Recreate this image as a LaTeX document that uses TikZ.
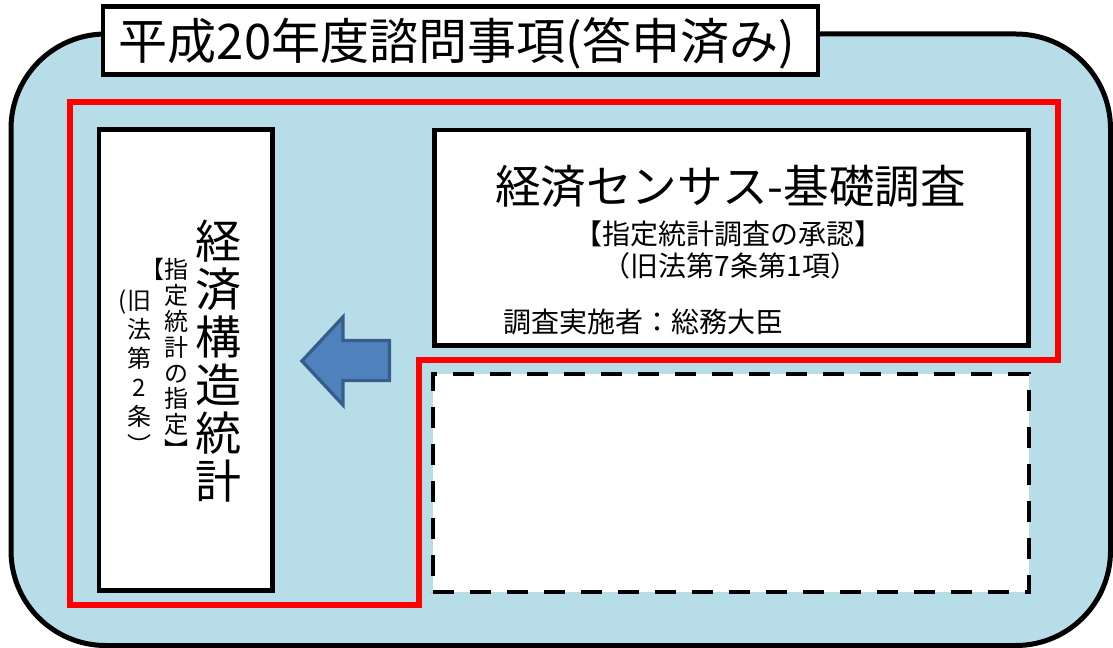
\documentclass[tikz,border=0pt]{standalone}
\usepackage{fontspec}
\newfontfamily\jp{Noto Sans CJK JP}
\definecolor{bgblue}{HTML}{B7DDE8}
\definecolor{arrowfill}{HTML}{4F81BD}
\definecolor{arrowline}{HTML}{385D8A}
\definecolor{framered}{HTML}{FF0000}
\tikzset{
  outerbox/.style={draw=black, line width=3.75pt, fill=bgblue, rounded corners=71pt},
  whitebox/.style={draw=black, line width=3.5pt, fill=white, inner sep=0pt},
  dashbox/.style={draw=black, line width=3.4pt, fill=white, inner sep=0pt, dash pattern=on 15.75pt off 12pt},
  redline/.style={draw=framered, line width=4.5pt, miter limit=10},
  blockarrow/.style={draw=arrowline, fill=arrowfill, line width=2.5pt, line join=miter},
  txt/.style={inner sep=0pt, text=black},
  vtxt/.style={inner sep=0pt, text=black, align=center, anchor=north}
}
\begin{document}
\begin{tikzpicture}[x=0.75pt, y=-0.75pt]
\useasboundingbox (0,0) rectangle (1113,648);
% outer rounded panel
\path[outerbox] (11,34) rectangle (1110.5,645.5);
% title
\node[whitebox, minimum width=536.25pt, minimum height=51pt] (titlebox) at (460.5,40.5) {};
\node[txt, anchor=base, font=\jp\fontsize{36.8pt}{40pt}\selectfont] (titletext) at (457,60) {平成20年度諮問事項(答申済み)};
% red frame
\draw[redline] (69.5,102.5) -- (1057.5,102.5) -- (1057.5,360) -- (419,360) -- (419,605) -- (69.5,605) -- cycle;
% left box
\node[whitebox, minimum width=130.1pt, minimum height=345.75pt] (leftbox) at (185.75,360) {};
\node[vtxt, font=\jp\fontsize{34.5pt}{36pt}\selectfont] (lefttitle) at (218.5,220) {経\\済\\構\\造\\統\\計};
\node[vtxt, font=\jp\fontsize{18pt}{19.4pt}\selectfont] (leftsub) at (176,258) {\llap{【}指\\定\\統\\計\\の\\指\\定\\︼};
\node[vtxt, font=\jp\fontsize{18pt}{21.75pt}\selectfont] (leftlaw) at (139,290) {\llap{(}旧\\法\\第\\2\\条\\︶};
% right box
\node[whitebox, minimum width=445.5pt, minimum height=161.6pt] (rightbox) at (731.5,237.75) {};
\node[txt, anchor=base, font=\jp\fontsize{34.2pt}{38pt}\selectfont] (righttitle) at (730.5,204) {経済センサス-基礎調査};
\node[txt, anchor=base, font=\jp\fontsize{21pt}{24pt}\selectfont] (rightsub) at (728,245) {【指定統計調査の承認】};
\node[txt, anchor=base, font=\jp\fontsize{21pt}{24pt}\selectfont] (rightlaw) at (730.5,277) {（旧法第7条第1項）};
\node[txt, anchor=base west, font=\jp\fontsize{21pt}{24pt}\selectfont] (rightorg) at (503,333) {調査実施者：総務大臣};
% dashed box
\node[dashbox, minimum width=447pt, minimum height=163.5pt] (dashedbox) at (731,483) {};
% block arrow
\draw[blockarrow] (302,361) -- (343,317) -- (343,340.5) -- (389.5,340.5) -- (389.5,380.5) -- (343,380.5) -- (343,405) -- cycle;
\end{tikzpicture}
\end{document}
